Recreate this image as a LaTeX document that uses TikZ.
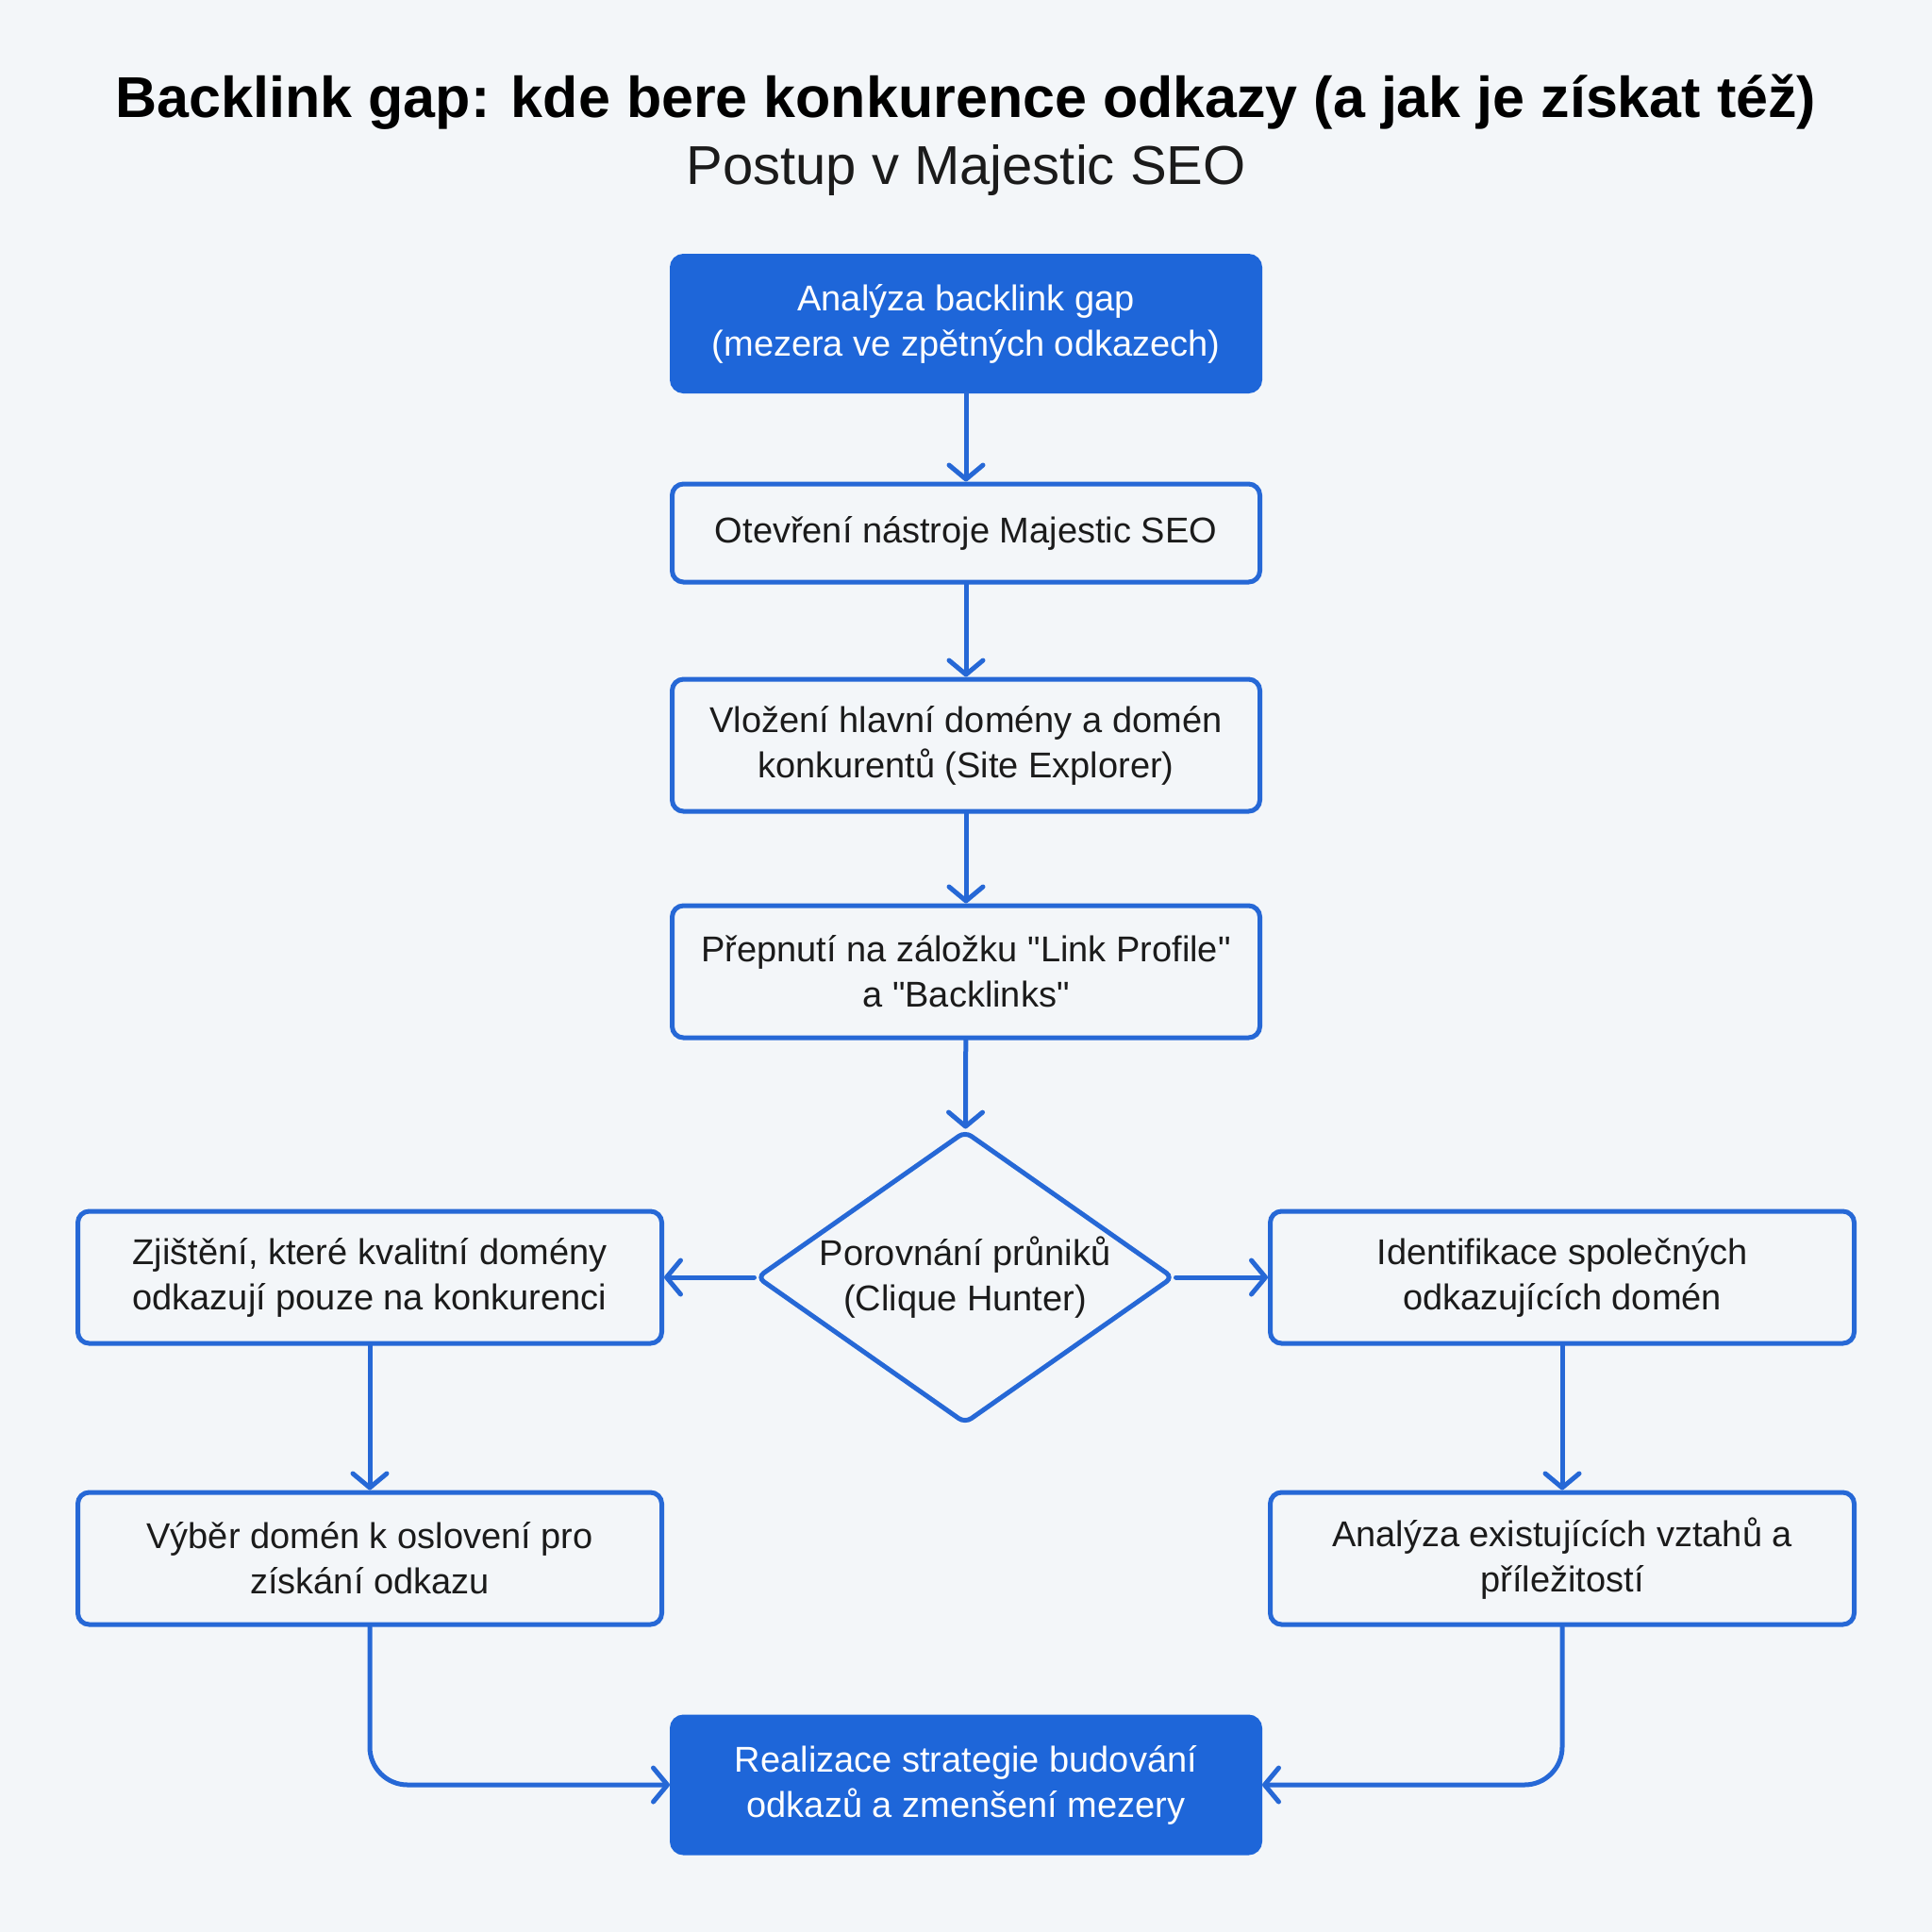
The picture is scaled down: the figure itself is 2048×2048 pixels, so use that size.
\documentclass[tikz,border=0pt]{standalone}
\usepackage{fontspec}
\setmainfont{Liberation Sans}[Ligatures=TeXOff]
\usetikzlibrary{arrows.meta,shapes.geometric}
\definecolor{bg}{HTML}{F3F6F9}
\definecolor{bluefill}{RGB}{30,102,217}
\definecolor{bluebdr}{RGB}{38,104,214}
\definecolor{ink}{HTML}{1B1B1B}
\tikzset{
  box/.style={draw=bluebdr, line width=5pt, rounded corners=12pt, fill=bg,
    align=center, text=ink, font=\fontsize{38}{48}\selectfont, inner sep=0pt},
  mainbox/.style={box, minimum width=623pt},
  sidebox/.style={box, minimum width=619pt, minimum height=140pt},
  darkbox/.style={mainbox, fill=bluefill, draw=bluefill, text=white},
  decision/.style={diamond, aspect=1.42, draw=bluebdr, line width=5pt, rounded corners=8pt,
    fill=bg, align=center, text=ink, font=\fontsize{38}{48}\selectfont, inner sep=2pt,
    minimum width=442pt, minimum height=310pt},
  arr/.style={draw=bluebdr, line width=5pt, line cap=round,
    -{Straight Barb[length=15pt,width=36pt,line cap=round,line join=round]}}
}
\begin{document}
\begin{tikzpicture}[x=1pt,y=-1pt]
\fill[bg] (0,0) rectangle (2048,2048);
\useasboundingbox (0,0) rectangle (2048,2048);
\node[font=\fontsize{61}{68}\selectfont\bfseries, text=black] (title) at (1024,108)
  {Backlink gap: kde bere konkurence odkazy (a jak je získat též)};
\node[font=\fontsize{58}{64}\selectfont, text=ink] (subtitle) at (1024,181)
  {Postup v Majestic SEO};

\node[darkbox, minimum height=143pt] (b1) at (1024,343)
  {Analýza backlink gap\\(mezera ve zpětných odkazech)};
\node[mainbox, minimum height=104pt] (b2) at (1024,565)
  {Otevření nástroje Majestic SEO};
\node[mainbox, minimum height=140pt] (b3) at (1024,790)
  {Vložení hlavní domény a domén\\konkurentů (Site Explorer)};
\node[mainbox, minimum height=140pt] (b4) at (1024,1030)
  {Přepnutí na záložku "Link Profile"\\a "Backlinks"};
\node[decision] (dia) at (1023,1354)
  {Porovnání průniků\\(Clique Hunter)};
\node[sidebox] (l1) at (392,1354)
  {Zjištění, které kvalitní domény\\odkazují pouze na konkurenci};
\node[sidebox] (r1) at (1656,1354)
  {Identifikace společných\\odkazujících domén};
\node[sidebox] (l2) at (392,1652)
  {Výběr domén k oslovení pro\\získání odkazu};
\node[sidebox] (r2) at (1656,1652)
  {Analýza existujících vztahů a\\příležitostí};
\node[darkbox, minimum height=144pt] (fin) at (1024,1892)
  {Realizace strategie budování\\odkazů a zmenšení mezery};

\draw[arr] (b1) -- (b2);
\draw[arr] (b2) -- (b3);
\draw[arr] (b3) -- (b4);
\draw[arr] (b4) -- (dia);
\draw[arr] (dia) -- (l1);
\draw[arr] (dia) -- (r1);
\draw[arr] (l1) -- (l2);
\draw[arr] (r1) -- (r2);
\draw[arr, rounded corners=40pt] (l2.south) |- (fin.west);
\draw[arr, rounded corners=40pt] (r2.south) |- (fin.east);
\end{tikzpicture}
\end{document}
